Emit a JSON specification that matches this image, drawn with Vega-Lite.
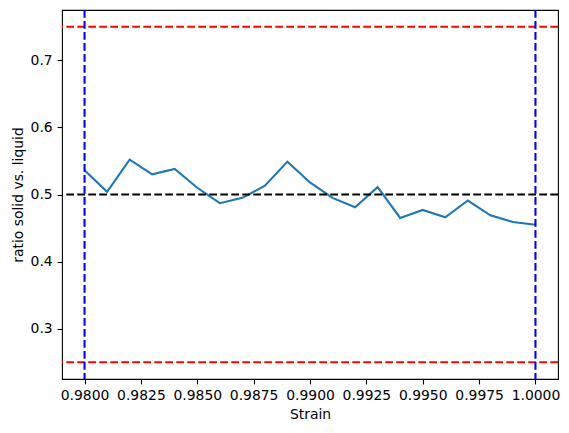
{
  "$schema": "https://vega.github.io/schema/vega-lite/v6.json",
  "autosize": "none",
  "width": 496,
  "height": 369,
  "padding": {"left": 62, "top": 10, "right": 11, "bottom": 54},
  "background": "white",
  "datasets": {
    "ratio": [
      {"strain": 0.980, "ratio": 0.536},
      {"strain": 0.981, "ratio": 0.504},
      {"strain": 0.982, "ratio": 0.552},
      {"strain": 0.983, "ratio": 0.530},
      {"strain": 0.984, "ratio": 0.538},
      {"strain": 0.985, "ratio": 0.510},
      {"strain": 0.986, "ratio": 0.487},
      {"strain": 0.987, "ratio": 0.495},
      {"strain": 0.988, "ratio": 0.513},
      {"strain": 0.989, "ratio": 0.549},
      {"strain": 0.990, "ratio": 0.518},
      {"strain": 0.991, "ratio": 0.495},
      {"strain": 0.992, "ratio": 0.481},
      {"strain": 0.993, "ratio": 0.511},
      {"strain": 0.994, "ratio": 0.465},
      {"strain": 0.995, "ratio": 0.477},
      {"strain": 0.996, "ratio": 0.466},
      {"strain": 0.997, "ratio": 0.491},
      {"strain": 0.998, "ratio": 0.469},
      {"strain": 0.999, "ratio": 0.459},
      {"strain": 1.000, "ratio": 0.455}
    ],
    "limits": [
      {"y": 0.25},
      {"y": 0.75}
    ],
    "middle": [
      {"y": 0.5}
    ],
    "bounds": [
      {"x": 0.98},
      {"x": 1.0}
    ]
  },
  "layer": [
    {
      "data": {"name": "ratio"},
      "mark": {"type": "line", "color": "#1f77b4", "strokeWidth": 2.08, "clip": true},
      "encoding": {
        "x": {
          "field": "strain",
          "type": "quantitative",
          "title": "Strain",
          "scale": {"domain": [0.979, 1.001], "nice": false, "zero": false},
          "axis": {
            "values": [0.98, 0.9825, 0.985, 0.9875, 0.99, 0.9925, 0.995, 0.9975, 1.0],
            "format": ".4f"
          }
        },
        "y": {
          "field": "ratio",
          "type": "quantitative",
          "title": "ratio solid vs. liquid",
          "scale": {"domain": [0.225, 0.775], "nice": false, "zero": false},
          "axis": {
            "values": [0.3, 0.4, 0.5, 0.6, 0.7],
            "format": ".1f"
          }
        }
      }
    },
    {
      "data": {"name": "limits"},
      "mark": {"type": "rule", "color": "red", "strokeWidth": 2.08, "strokeDash": [7.7, 3.3]},
      "encoding": {"y": {"field": "y", "type": "quantitative"}}
    },
    {
      "data": {"name": "middle"},
      "mark": {"type": "rule", "color": "black", "strokeWidth": 2.08, "strokeDash": [7.7, 3.3]},
      "encoding": {"y": {"field": "y", "type": "quantitative"}}
    },
    {
      "data": {"name": "bounds"},
      "mark": {"type": "rule", "color": "blue", "strokeWidth": 2.08, "strokeDash": [7.7, 3.3]},
      "encoding": {"x": {"field": "x", "type": "quantitative"}}
    }
  ],
  "config": {
    "view": {"stroke": "black", "strokeWidth": 1.1},
    "axis": {
      "grid": false,
      "domain": false,
      "ticks": true,
      "tickColor": "black",
      "tickSize": 4.9,
      "tickWidth": 1.1,
      "labelFont": "DejaVu Sans",
      "labelFontSize": 13.9,
      "labelColor": "black",
      "labelPadding": 4.9,
      "titleFont": "DejaVu Sans",
      "titleFontSize": 13.9,
      "titleFontWeight": "normal",
      "titleColor": "black",
      "titlePadding": 4.9
    }
  }
}
